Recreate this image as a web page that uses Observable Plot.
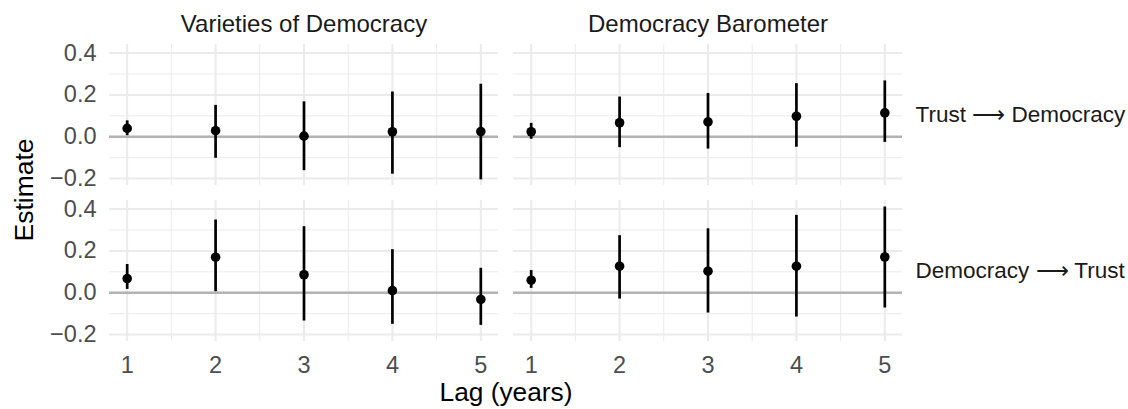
<!DOCTYPE html>
<html>
<head>
<meta charset="utf-8">
<script src="https://cdn.jsdelivr.net/npm/d3@7"></script>
<script src="https://cdn.jsdelivr.net/npm/@observablehq/plot@0.6"></script>
<style>
  html, body { margin: 0; padding: 0; background: #ffffff; }
  #chart svg { display: block; }
</style>
</head>
<body>
<div id="chart"></div>
<script>
// ---- data ----
const sources = ["Varieties of Democracy", "Democracy Barometer"];
const directions = ["Trust \u27F6 Democracy", "Democracy \u27F6 Trust"];
const lags = [1, 2, 3, 4, 5];

// Varieties of Democracy, Trust -> Democracy
const vdemTD_est = [0.040, 0.029, 0.003, 0.024, 0.025];
const vdemTD_lo  = [0.005, -0.103, -0.162, -0.179, -0.206];
const vdemTD_hi  = [0.076, 0.150, 0.167, 0.214, 0.251];
// Democracy Barometer, Trust -> Democracy
const dbTD_est = [0.024, 0.067, 0.071, 0.098, 0.114];
const dbTD_lo  = [-0.012, -0.052, -0.059, -0.050, -0.027];
const dbTD_hi  = [0.064, 0.190, 0.207, 0.254, 0.267];
// Varieties of Democracy, Democracy -> Trust
const vdemDT_est = [0.068, 0.170, 0.086, 0.010, -0.032];
const vdemDT_lo  = [0.016, 0.005, -0.135, -0.151, -0.156];
const vdemDT_hi  = [0.135, 0.348, 0.316, 0.206, 0.117];
// Democracy Barometer, Democracy -> Trust
const dbDT_est = [0.060, 0.127, 0.103, 0.127, 0.171];
const dbDT_lo  = [0.021, -0.030, -0.097, -0.116, -0.073];
const dbDT_hi  = [0.106, 0.273, 0.306, 0.370, 0.410];

const yTicks = [-0.2, 0, 0.2, 0.4];
const yMinor = [-0.1, 0.1, 0.3];
const xTicks = [1, 2, 3, 4, 5];
const xMinor = [1.5, 2.5, 3.5, 4.5];

// ---- build a tidy table ----
const series = [
  {source: sources[0], direction: directions[0], est: vdemTD_est, lo: vdemTD_lo, hi: vdemTD_hi},
  {source: sources[1], direction: directions[0], est: dbTD_est, lo: dbTD_lo, hi: dbTD_hi},
  {source: sources[0], direction: directions[1], est: vdemDT_est, lo: vdemDT_lo, hi: vdemDT_hi},
  {source: sources[1], direction: directions[1], est: dbDT_est, lo: dbDT_lo, hi: dbDT_hi}
];
const rows = series.flatMap(s => lags.map((lag, i) => ({
  source: s.source, direction: s.direction, lag, est: s.est[i], lo: s.lo[i], hi: s.hi[i]
})));

const fmt = d3.format(".1f");
const font = "'Liberation Sans', Arial, Helvetica, sans-serif";

const chart = Plot.plot({
  width: 1128,
  height: 409,
  marginLeft: 109,
  marginRight: 226,
  marginTop: 44,
  marginBottom: 67,
  style: {fontFamily: font, background: "#ffffff", overflow: "visible"},
  fx: {domain: sources, paddingInner: 15 / 404, paddingOuter: 0, label: null},
  fy: {domain: directions, paddingInner: 15 / 156.5, paddingOuter: 0, label: null},
  x: {domain: [0.8, 5.2], label: null},
  y: {domain: [-0.233, 0.441], label: null},
  marks: [
    Plot.gridY({ticks: yMinor, stroke: "#ebebeb", strokeOpacity: 1, strokeWidth: 1}),
    Plot.gridX({ticks: xMinor, stroke: "#ebebeb", strokeOpacity: 1, strokeWidth: 1}),
    Plot.gridY({ticks: yTicks, stroke: "#ebebeb", strokeOpacity: 1, strokeWidth: 2}),
    Plot.gridX({ticks: xTicks, stroke: "#ebebeb", strokeOpacity: 1, strokeWidth: 2}),
    Plot.ruleY([0], {stroke: "#b3b3b3", strokeWidth: 2.5}),
    Plot.ruleX(rows, {fx: "source", fy: "direction", x: "lag", y1: "lo", y2: "hi", stroke: "#000000", strokeWidth: 2.7}),
    Plot.dot(rows, {fx: "source", fy: "direction", x: "lag", y: "est", r: 4.8, fill: "#000000", stroke: null}),
    Plot.axisY({anchor: "left", ticks: yTicks, tickFormat: fmt, tickSize: 0, tickPadding: 13, fontSize: 23.5, color: "#4d4d4d", label: null}),
    Plot.axisX({anchor: "bottom", ticks: xTicks, tickFormat: d => String(d), tickSize: 0, tickPadding: 15, fontSize: 23.5, color: "#4d4d4d", label: null}),
    Plot.axisFx({anchor: "top", tickSize: 0, tickPadding: 13, fontSize: 24, color: "#1a1a1a", label: null}),
    Plot.axisFy({anchor: "right", tickSize: 0, tickPadding: 13, fontSize: 22.5, color: "#1a1a1a", textAnchor: "start", label: null}),
    Plot.text(["Lag (years)"], {frameAnchor: "bottom", facet: "super", lineAnchor: "bottom", textAnchor: "middle", dy: 59, fontSize: 26.3, fill: "#000000"}),
    Plot.text(["Estimate"], {frameAnchor: "left", facet: "super", rotate: -90, lineAnchor: "middle", textAnchor: "middle", dx: -85, dy: -3, fontSize: 26.5, fill: "#000000"})
  ]
});
document.getElementById("chart").appendChild(chart);
</script>
</body>
</html>
